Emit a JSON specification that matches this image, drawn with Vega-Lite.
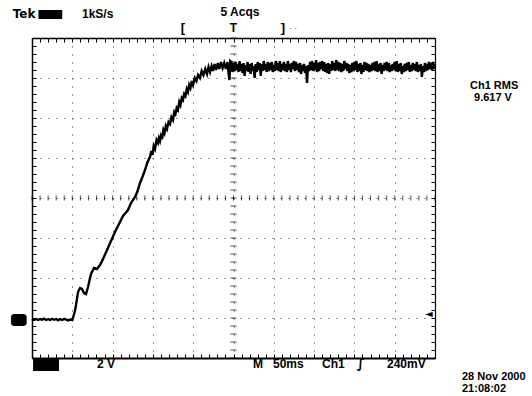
{
  "$schema": "https://vega.github.io/schema/vega-lite/v6.json",
  "width": 403,
  "height": 320,
  "autosize": {"type": "none"},
  "padding": {"left": 32, "top": 38, "right": 97, "bottom": 38},
  "background": "white",
  "config": {
    "view": {"stroke": null},
    "axis": {"labels": false, "title": null, "domainColor": "black", "tickColor": "black", "tickSize": -4, "tickWidth": 1},
    "text": {"font": "Liberation Sans", "fontWeight": "bold", "fontSize": 12, "color": "black"}
  },
  "datasets": {
    "trace": [
      {"t": 0, "v": -0.05}, {"t": 2.5, "v": -0.1}, {"t": 5, "v": -0.05}, {"t": 7.5, "v": -0.1}, {"t": 10, "v": -0.05},
      {"t": 12.5, "v": -0.08}, {"t": 15, "v": -0.03}, {"t": 17.5, "v": -0.1}, {"t": 20, "v": -0.06}, {"t": 22.5, "v": -0.1},
      {"t": 25, "v": -0.04}, {"t": 27.5, "v": -0.09}, {"t": 30, "v": -0.05}, {"t": 32.5, "v": -0.12}, {"t": 35, "v": -0.06},
      {"t": 37.5, "v": -0.1}, {"t": 40, "v": -0.04}, {"t": 42.5, "v": -0.08}, {"t": 45, "v": -0.12}, {"t": 47.5, "v": -0.08},
      {"t": 50, "v": -0.1}, {"t": 53, "v": 0.3}, {"t": 54.6, "v": 0.65}, {"t": 57.1, "v": 1.3}, {"t": 59.6, "v": 1.5},
      {"t": 62, "v": 1.45}, {"t": 64.5, "v": 1.25}, {"t": 67, "v": 1.2}, {"t": 69.5, "v": 1.55}, {"t": 73.2, "v": 2.2},
      {"t": 76.9, "v": 2.5}, {"t": 80.6, "v": 2.45}, {"t": 84.4, "v": 2.65}, {"t": 88.1, "v": 2.95}, {"t": 93.1, "v": 3.4},
      {"t": 98, "v": 3.85}, {"t": 103, "v": 4.3}, {"t": 107.9, "v": 4.7}, {"t": 112.9, "v": 5.1}, {"t": 119.1, "v": 5.4},
      {"t": 122.8, "v": 5.75}, {"t": 127.8, "v": 6.05}, {"t": 131, "v": 6.35}, {"t": 134, "v": 6.75}, {"t": 137, "v": 7.05},
      {"t": 140.2, "v": 7.4}, {"t": 143.3, "v": 7.8}, {"t": 146.4, "v": 8.05}, {"t": 148, "v": 8.35}, {"t": 149.5, "v": 8.15},
      {"t": 151, "v": 8.6}, {"t": 152.6, "v": 8.45}, {"t": 154.5, "v": 8.9}, {"t": 156.3, "v": 8.75}, {"t": 157.5, "v": 9.0},
      {"t": 158.8, "v": 8.85}, {"t": 160, "v": 9.1}, {"t": 161.3, "v": 8.95}, {"t": 163, "v": 9.4}, {"t": 164.4, "v": 9.25},
      {"t": 166, "v": 9.6}, {"t": 167.5, "v": 9.45}, {"t": 169.4, "v": 9.8}, {"t": 171.2, "v": 9.7}, {"t": 173, "v": 10.05},
      {"t": 174.9, "v": 9.9}, {"t": 176.5, "v": 10.3}, {"t": 178, "v": 10.2}, {"t": 179.5, "v": 10.5}, {"t": 181.1, "v": 10.4},
      {"t": 182.7, "v": 10.8}, {"t": 184.2, "v": 10.65}, {"t": 185.8, "v": 11.0}, {"t": 187.3, "v": 10.9}, {"t": 188.8, "v": 11.2},
      {"t": 190.4, "v": 11.1}, {"t": 192, "v": 11.45}, {"t": 193.5, "v": 11.3}, {"t": 195, "v": 11.65}, {"t": 196.6, "v": 11.5},
      {"t": 198.2, "v": 11.85}, {"t": 199.8, "v": 11.65}, {"t": 202, "v": 12.0}, {"t": 204, "v": 11.85}, {"t": 206, "v": 12.15},
      {"t": 208.4, "v": 12.0}, {"t": 210.5, "v": 12.35}, {"t": 212.7, "v": 12.15}, {"t": 215, "v": 12.45}, {"t": 217.1, "v": 12.2},
      {"t": 219, "v": 12.55}, {"t": 220.9, "v": 12.3}, {"t": 222.8, "v": 12.6}, {"t": 224.6, "v": 12.35}, {"t": 226.5, "v": 12.7},
      {"t": 228.5, "v": 12.4}, {"t": 230.5, "v": 12.75}, {"t": 232.5, "v": 12.45}, {"t": 234.5, "v": 12.8}, {"t": 236.5, "v": 12.5},
      {"t": 238.5, "v": 12.75}, {"t": 240.5, "v": 12.45}, {"t": 242.5, "v": 12.8}, {"t": 244, "v": 12.2}, {"t": 245, "v": 11.9},
      {"t": 246, "v": 12.85},
      {"t": 247.5, "v": 12.8}, {"t": 248.75, "v": 12.3}, {"t": 250, "v": 12.75}, {"t": 251.25, "v": 12.35}, {"t": 252.5, "v": 12.8},
      {"t": 253.75, "v": 12.4}, {"t": 255, "v": 12.7}, {"t": 256.25, "v": 12.3}, {"t": 257.5, "v": 12.85}, {"t": 258.75, "v": 12.35},
      {"t": 260, "v": 12.7}, {"t": 261.25, "v": 12.25}, {"t": 262.5, "v": 12.75}, {"t": 263.75, "v": 12.1}, {"t": 265, "v": 12.65},
      {"t": 266.25, "v": 12.35}, {"t": 267.5, "v": 12.8}, {"t": 268.75, "v": 12.3}, {"t": 270, "v": 12.7}, {"t": 271.25, "v": 12.2},
      {"t": 272.5, "v": 12.75}, {"t": 273.75, "v": 12.35}, {"t": 275, "v": 12.6}, {"t": 276.25, "v": 12.0}, {"t": 277.5, "v": 12.7},
      {"t": 278.75, "v": 12.3}, {"t": 280, "v": 12.8}, {"t": 281.25, "v": 12.4}, {"t": 282.5, "v": 12.75}, {"t": 283.75, "v": 12.1},
      {"t": 285, "v": 12.7}, {"t": 286.25, "v": 12.35}, {"t": 287.5, "v": 12.85}, {"t": 288.75, "v": 12.4}, {"t": 290, "v": 12.7},
      {"t": 291.25, "v": 12.3}, {"t": 292.5, "v": 12.8}, {"t": 293.75, "v": 12.35}, {"t": 295, "v": 12.75}, {"t": 296.25, "v": 12.4},
      {"t": 297.5, "v": 12.8}, {"t": 298.75, "v": 12.3}, {"t": 300, "v": 12.65}, {"t": 301.25, "v": 12.35}, {"t": 302.5, "v": 12.85},
      {"t": 303.75, "v": 12.4}, {"t": 305, "v": 12.75}, {"t": 306.25, "v": 12.35}, {"t": 307.5, "v": 12.85}, {"t": 308.75, "v": 12.3},
      {"t": 310, "v": 12.7}, {"t": 311.25, "v": 12.4}, {"t": 312.5, "v": 12.8}, {"t": 313.75, "v": 12.35}, {"t": 315, "v": 12.7},
      {"t": 316.25, "v": 12.3}, {"t": 317.5, "v": 12.85}, {"t": 318.75, "v": 12.4}, {"t": 320, "v": 12.7}, {"t": 321.25, "v": 12.3},
      {"t": 322.5, "v": 12.75}, {"t": 323.75, "v": 12.45}, {"t": 325, "v": 12.85}, {"t": 326.25, "v": 12.35}, {"t": 327.5, "v": 12.8},
      {"t": 328.75, "v": 12.4}, {"t": 330, "v": 12.7}, {"t": 331.25, "v": 12.3}, {"t": 332.5, "v": 12.75}, {"t": 333.75, "v": 12.2},
      {"t": 335, "v": 12.65}, {"t": 336.25, "v": 12.35}, {"t": 337.5, "v": 12.7}, {"t": 338.75, "v": 12.25}, {"t": 340, "v": 12.6},
      {"t": 341.25, "v": 11.75}, {"t": 342.5, "v": 12.65}, {"t": 343.75, "v": 12.35}, {"t": 345, "v": 12.8}, {"t": 346.25, "v": 12.4},
      {"t": 347.5, "v": 12.85}, {"t": 348.75, "v": 12.35}, {"t": 350, "v": 12.75}, {"t": 351.25, "v": 12.4}, {"t": 352.5, "v": 12.9},
      {"t": 353.75, "v": 12.3}, {"t": 355, "v": 12.75}, {"t": 356.25, "v": 12.35}, {"t": 357.5, "v": 12.8}, {"t": 358.75, "v": 12.45},
      {"t": 360, "v": 12.85}, {"t": 361.25, "v": 12.35}, {"t": 362.5, "v": 12.8}, {"t": 363.75, "v": 12.3}, {"t": 365, "v": 12.7},
      {"t": 366.25, "v": 12.25}, {"t": 367.5, "v": 12.75}, {"t": 368.75, "v": 12.2}, {"t": 370, "v": 12.7}, {"t": 371.25, "v": 12.35},
      {"t": 372.5, "v": 12.85}, {"t": 373.75, "v": 12.4}, {"t": 375, "v": 12.75}, {"t": 376.25, "v": 12.35}, {"t": 377.5, "v": 12.9},
      {"t": 378.75, "v": 12.4}, {"t": 380, "v": 12.8}, {"t": 381.25, "v": 12.35}, {"t": 382.5, "v": 12.75}, {"t": 383.75, "v": 12.3},
      {"t": 385, "v": 12.7}, {"t": 386.25, "v": 12.35}, {"t": 387.5, "v": 12.85}, {"t": 388.75, "v": 12.45}, {"t": 390, "v": 12.75},
      {"t": 391.25, "v": 12.35}, {"t": 392.5, "v": 12.7}, {"t": 393.75, "v": 12.25}, {"t": 395, "v": 12.65}, {"t": 396.25, "v": 12.3},
      {"t": 397.5, "v": 12.75}, {"t": 398.75, "v": 12.35}, {"t": 400, "v": 12.8}, {"t": 401.25, "v": 12.4}, {"t": 402.5, "v": 12.85},
      {"t": 403.75, "v": 12.3}, {"t": 405, "v": 12.7}, {"t": 406.25, "v": 12.35}, {"t": 407.5, "v": 12.75}, {"t": 408.75, "v": 12.2},
      {"t": 410, "v": 12.65}, {"t": 411.25, "v": 12.3}, {"t": 412.5, "v": 12.8}, {"t": 413.75, "v": 12.4}, {"t": 415, "v": 12.75},
      {"t": 416.25, "v": 12.35}, {"t": 417.5, "v": 12.7}, {"t": 418.75, "v": 12.3}, {"t": 420, "v": 12.65}, {"t": 421.25, "v": 12.35},
      {"t": 422.5, "v": 12.75}, {"t": 423.75, "v": 12.4}, {"t": 425, "v": 12.8}, {"t": 426.25, "v": 12.35}, {"t": 427.5, "v": 12.85},
      {"t": 428.75, "v": 12.3}, {"t": 430, "v": 12.7}, {"t": 431.25, "v": 12.35}, {"t": 432.5, "v": 12.75}, {"t": 433.75, "v": 12.2},
      {"t": 435, "v": 12.65}, {"t": 436.25, "v": 12.35}, {"t": 437.5, "v": 12.75}, {"t": 438.75, "v": 12.4}, {"t": 440, "v": 12.8},
      {"t": 441.25, "v": 12.35}, {"t": 442.5, "v": 12.75}, {"t": 443.75, "v": 12.3}, {"t": 445, "v": 12.65}, {"t": 446.25, "v": 12.35},
      {"t": 447.5, "v": 12.7}, {"t": 448.75, "v": 12.4}, {"t": 450, "v": 12.8}, {"t": 451.25, "v": 12.35}, {"t": 452.5, "v": 12.85},
      {"t": 453.75, "v": 12.3}, {"t": 455, "v": 12.7}, {"t": 456.25, "v": 12.35}, {"t": 457.5, "v": 12.75}, {"t": 458.75, "v": 12.2},
      {"t": 460, "v": 12.6}, {"t": 461.25, "v": 12.3}, {"t": 462.5, "v": 12.7}, {"t": 463.75, "v": 12.35}, {"t": 465, "v": 12.75},
      {"t": 466.25, "v": 12.4}, {"t": 467.5, "v": 12.8}, {"t": 468.75, "v": 12.3}, {"t": 470, "v": 12.65}, {"t": 471.25, "v": 12.35},
      {"t": 472.5, "v": 12.75}, {"t": 473.75, "v": 12.4}, {"t": 475, "v": 12.7}, {"t": 476.25, "v": 12.35}, {"t": 477.5, "v": 12.8},
      {"t": 478.75, "v": 12.3}, {"t": 480, "v": 12.65}, {"t": 481.25, "v": 12.35}, {"t": 482.5, "v": 12.7}, {"t": 483.75, "v": 12.05},
      {"t": 485, "v": 12.6}, {"t": 486.25, "v": 12.3}, {"t": 487.5, "v": 12.75}, {"t": 488.75, "v": 12.35}, {"t": 490, "v": 12.7},
      {"t": 491.25, "v": 12.4}, {"t": 492.5, "v": 12.8}, {"t": 493.75, "v": 12.45}, {"t": 495, "v": 12.75}, {"t": 496.25, "v": 12.4},
      {"t": 497.5, "v": 12.8}, {"t": 498.75, "v": 12.45}, {"t": 500, "v": 12.7}
    ],
    "hticks": [
      {"t": 0}, {"t": 10}, {"t": 20}, {"t": 30}, {"t": 40}, {"t": 50}, {"t": 60}, {"t": 70}, {"t": 80}, {"t": 90},
      {"t": 100}, {"t": 110}, {"t": 120}, {"t": 130}, {"t": 140}, {"t": 150}, {"t": 160}, {"t": 170}, {"t": 180}, {"t": 190},
      {"t": 200}, {"t": 210}, {"t": 220}, {"t": 230}, {"t": 240}, {"t": 250}, {"t": 260}, {"t": 270}, {"t": 280}, {"t": 290},
      {"t": 300}, {"t": 310}, {"t": 320}, {"t": 330}, {"t": 340}, {"t": 350}, {"t": 360}, {"t": 370}, {"t": 380}, {"t": 390},
      {"t": 400}, {"t": 410}, {"t": 420}, {"t": 430}, {"t": 440}, {"t": 450}, {"t": 460}, {"t": 470}, {"t": 480}, {"t": 490}, {"t": 500}
    ],
    "vticks": [
      {"v": -2}, {"v": -1.6}, {"v": -1.2}, {"v": -0.8}, {"v": -0.4}, {"v": 0}, {"v": 0.4}, {"v": 0.8}, {"v": 1.2}, {"v": 1.6},
      {"v": 2}, {"v": 2.4}, {"v": 2.8}, {"v": 3.2}, {"v": 3.6}, {"v": 4}, {"v": 4.4}, {"v": 4.8}, {"v": 5.2}, {"v": 5.6},
      {"v": 6}, {"v": 6.4}, {"v": 6.8}, {"v": 7.2}, {"v": 7.6}, {"v": 8}, {"v": 8.4}, {"v": 8.8}, {"v": 9.2}, {"v": 9.6},
      {"v": 10}, {"v": 10.4}, {"v": 10.8}, {"v": 11.2}, {"v": 11.6}, {"v": 12}, {"v": 12.4}, {"v": 12.8}, {"v": 13.2}, {"v": 13.6}, {"v": 14}
    ]
  },
  "resolve": {"axis": {"x": "independent", "y": "independent"}},
  "layer": [
    {
      "data": {"name": "trace"},
      "mark": {"type": "line", "color": "black", "strokeWidth": 2.4},
      "encoding": {
        "x": {"field": "t", "type": "quantitative", "scale": {"domain": [0, 500], "nice": false, "zero": false},
          "axis": {"orient": "bottom", "values": [0,10,20,30,40,50,60,70,80,90,100,110,120,130,140,150,160,170,180,190,200,210,220,230,240,250,260,270,280,290,300,310,320,330,340,350,360,370,380,390,400,410,420,430,440,450,460,470,480,490,500],
            "domainWidth": 2, "grid": true, "gridDash": [1, 7], "gridColor": "#333", "gridWidth": 1,
            "gridOpacity": {"condition": {"test": "datum.value % 50 === 0", "value": 1}, "value": 0}}},
        "y": {"field": "v", "type": "quantitative", "scale": {"domain": [-2, 14], "nice": false, "zero": false},
          "axis": {"orient": "left", "values": [-2,-1.6,-1.2,-0.8,-0.4,0,0.4,0.8,1.2,1.6,2,2.4,2.8,3.2,3.6,4,4.4,4.8,5.2,5.6,6,6.4,6.8,7.2,7.6,8,8.4,8.8,9.2,9.6,10,10.4,10.8,11.2,11.6,12,12.4,12.8,13.2,13.6,14],
            "domainWidth": 1.5, "grid": true, "gridDash": [1, 7], "gridColor": "#333", "gridWidth": 1,
            "gridOpacity": {"condition": {"test": "abs(datum.value % 2) < 0.001", "value": 1}, "value": 0}}}
      }
    },
    {
      "data": {"name": "hticks"},
      "mark": {"type": "tick", "orient": "vertical", "size": 5, "thickness": 1, "color": "black"},
      "encoding": {
        "x": {"field": "t", "type": "quantitative", "scale": {"domain": [0, 500], "nice": false, "zero": false},
          "axis": {"orient": "top", "values": [0,10,20,30,40,50,60,70,80,90,100,110,120,130,140,150,160,170,180,190,200,210,220,230,240,250,260,270,280,290,300,310,320,330,340,350,360,370,380,390,400,410,420,430,440,450,460,470,480,490,500], "domainWidth": 1.3, "grid": false}},
        "y": {"datum": 6, "type": "quantitative", "scale": {"domain": [-2, 14], "nice": false, "zero": false},
          "axis": {"orient": "right", "values": [-2,-1.6,-1.2,-0.8,-0.4,0,0.4,0.8,1.2,1.6,2,2.4,2.8,3.2,3.6,4,4.4,4.8,5.2,5.6,6,6.4,6.8,7.2,7.6,8,8.4,8.8,9.2,9.6,10,10.4,10.8,11.2,11.6,12,12.4,12.8,13.2,13.6,14], "domainWidth": 1.2, "grid": false}}
      }
    },
    {
      "data": {"name": "vticks"},
      "mark": {"type": "tick", "orient": "horizontal", "size": 6, "thickness": 1, "color": "black"},
      "encoding": {
        "x": {"datum": 250, "type": "quantitative", "axis": null},
        "y": {"field": "v", "type": "quantitative", "axis": null}
      }
    },
    {
      "data": {"values": [{"box": "run"}]},
      "mark": {"type": "rect", "color": "black"},
      "encoding": {"x": {"datum": 8, "type": "quantitative", "axis": null}, "x2": {"datum": 37.5}, "y": {"datum": 15.4, "type": "quantitative", "axis": null}, "y2": {"datum": 14.95}}
    },
    {
      "data": {"values": [{"box": "ch"}]},
      "mark": {"type": "rect", "color": "black"},
      "encoding": {"x": {"datum": 1.3, "type": "quantitative", "axis": null}, "x2": {"datum": 33.5}, "y": {"datum": -2.05, "type": "quantitative", "axis": null}, "y2": {"datum": -2.65}}
    },
    {
      "data": {"values": [{"box": "gnd"}]},
      "mark": {"type": "rect", "color": "black", "cornerRadius": 3},
      "encoding": {"x": {"datum": -26.1, "type": "quantitative", "axis": null}, "x2": {"datum": -6.6}, "y": {"datum": 0.2, "type": "quantitative", "axis": null}, "y2": {"datum": -0.4}}
    },
    {
      "data": {"values": [{"label": "Tek"}]},
      "mark": {"type": "text", "text": "Tek", "align": "left", "baseline": "alphabetic", "fontSize": 12, "font": "DejaVu Sans", "fontWeight": 900},
      "encoding": {"x": {"datum": -24, "type": "quantitative", "axis": null}, "y": {"datum": 15.0, "type": "quantitative", "axis": null}}
    },
    {
      "data": {"values": [{"label": "1kS/s"}]},
      "mark": {"type": "text", "text": "1kS/s", "align": "left", "baseline": "alphabetic"},
      "encoding": {"x": {"datum": 62, "type": "quantitative", "axis": null}, "y": {"datum": 15.0, "type": "quantitative", "axis": null}}
    },
    {
      "data": {"values": [{"label": "5 Acqs"}]},
      "mark": {"type": "text", "text": "5 Acqs", "align": "center", "baseline": "alphabetic"},
      "encoding": {"x": {"datum": 258, "type": "quantitative", "axis": null}, "y": {"datum": 15.1, "type": "quantitative", "axis": null}}
    },
    {
      "data": {"values": [{"label": "["}]},
      "mark": {"type": "text", "text": "[", "align": "center", "baseline": "alphabetic", "fontSize": 13},
      "encoding": {"x": {"datum": 187.3, "type": "quantitative", "axis": null}, "y": {"datum": 14.3, "type": "quantitative", "axis": null}}
    },
    {
      "data": {"values": [{"label": "T"}]},
      "mark": {"type": "text", "text": "T", "align": "center", "baseline": "alphabetic"},
      "encoding": {"x": {"datum": 250, "type": "quantitative", "axis": null}, "y": {"datum": 14.3, "type": "quantitative", "axis": null}}
    },
    {
      "data": {"values": [{"label": "]"}]},
      "mark": {"type": "text", "text": "]", "align": "center", "baseline": "alphabetic", "fontSize": 13},
      "encoding": {"x": {"datum": 311.4, "type": "quantitative", "axis": null}, "y": {"datum": 14.3, "type": "quantitative", "axis": null}}
    },
    {
      "data": {"values": [{"label": "- -"}]},
      "mark": {"type": "text", "text": "-  -", "align": "left", "baseline": "alphabetic", "fontSize": 8, "fontWeight": "normal", "color": "#777"},
      "encoding": {"x": {"datum": 319, "type": "quantitative", "axis": null}, "y": {"datum": 14.4, "type": "quantitative", "axis": null}}
    },
    {
      "data": {"values": [{"label": "Ch1 RMS"}]},
      "mark": {"type": "text", "text": "Ch1 RMS", "align": "left", "baseline": "alphabetic", "fontSize": 11},
      "encoding": {"x": {"datum": 543.4, "type": "quantitative", "axis": null}, "y": {"datum": 11.45, "type": "quantitative", "axis": null}}
    },
    {
      "data": {"values": [{"label": "9.617 V"}]},
      "mark": {"type": "text", "text": "9.617 V", "align": "left", "baseline": "alphabetic", "fontSize": 11},
      "encoding": {"x": {"datum": 548.4, "type": "quantitative", "axis": null}, "y": {"datum": 10.85, "type": "quantitative", "axis": null}}
    },
    {
      "data": {"values": [{"label": "2 V"}]},
      "mark": {"type": "text", "text": "2 V", "align": "left", "baseline": "alphabetic"},
      "encoding": {"x": {"datum": 80.6, "type": "quantitative", "axis": null}, "y": {"datum": -2.5, "type": "quantitative", "axis": null}}
    },
    {
      "data": {"values": [{"label": "M"}]},
      "mark": {"type": "text", "text": "M", "align": "left", "baseline": "alphabetic"},
      "encoding": {"x": {"datum": 274.2, "type": "quantitative", "axis": null}, "y": {"datum": -2.5, "type": "quantitative", "axis": null}}
    },
    {
      "data": {"values": [{"label": "50ms"}]},
      "mark": {"type": "text", "text": "50ms", "align": "left", "baseline": "alphabetic"},
      "encoding": {"x": {"datum": 299, "type": "quantitative", "axis": null}, "y": {"datum": -2.5, "type": "quantitative", "axis": null}}
    },
    {
      "data": {"values": [{"label": "Ch1"}]},
      "mark": {"type": "text", "text": "Ch1", "align": "left", "baseline": "alphabetic"},
      "encoding": {"x": {"datum": 359.8, "type": "quantitative", "axis": null}, "y": {"datum": -2.5, "type": "quantitative", "axis": null}}
    },
    {
      "data": {"values": [{"label": "edge"}]},
      "mark": {"type": "text", "text": "∫", "align": "left", "baseline": "alphabetic", "font": "DejaVu Sans", "fontSize": 13},
      "encoding": {"x": {"datum": 403, "type": "quantitative", "axis": null}, "y": {"datum": -2.5, "type": "quantitative", "axis": null}}
    },
    {
      "data": {"values": [{"label": "240mV"}]},
      "mark": {"type": "text", "text": "240mV", "align": "left", "baseline": "alphabetic"},
      "encoding": {"x": {"datum": 440.4, "type": "quantitative", "axis": null}, "y": {"datum": -2.5, "type": "quantitative", "axis": null}}
    },
    {
      "data": {"values": [{"label": "28 Nov 2000"}]},
      "mark": {"type": "text", "text": "28 Nov 2000", "align": "left", "baseline": "alphabetic", "fontSize": 11},
      "encoding": {"x": {"datum": 533.5, "type": "quantitative", "axis": null}, "y": {"datum": -3.1, "type": "quantitative", "axis": null}}
    },
    {
      "data": {"values": [{"label": "21:08:02"}]},
      "mark": {"type": "text", "text": "21:08:02", "align": "left", "baseline": "alphabetic", "fontSize": 11},
      "encoding": {"x": {"datum": 533.5, "type": "quantitative", "axis": null}, "y": {"datum": -3.7, "type": "quantitative", "axis": null}}
    },
    {
      "data": {"values": [{"label": "trig"}]},
      "mark": {"type": "text", "text": "◄", "align": "center", "baseline": "middle", "font": "DejaVu Sans", "fontSize": 10},
      "encoding": {"x": {"datum": 492.5, "type": "quantitative", "axis": null}, "y": {"datum": 0.22, "type": "quantitative", "axis": null}}
    }
  ]
}
